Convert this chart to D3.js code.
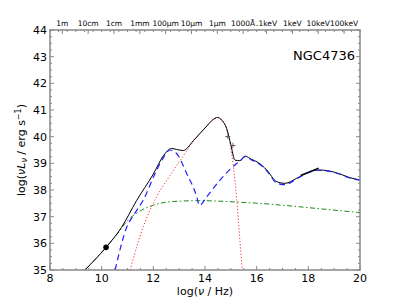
<!DOCTYPE html>
<html>
<head>
<meta charset="utf-8">
<script src="https://cdn.jsdelivr.net/npm/d3@7"></script>
<style>
  body { margin: 0; background: #fff; }
  svg { font-family: "DejaVu Sans", sans-serif; }
</style>
</head>
<body>
<svg width="400" height="300"></svg>
<script>
// log(nu/Hz), log(nu L_nu)
var totalSed = [[9.35,35],[10.17,35.85],[10.77,36.6],[11.35,37.6],[12.0,38.6],[12.4,39.3],[12.7,39.56],
  [12.9,39.52],[13.16,39.48],[13.55,39.85],[14.07,40.4],[14.3,40.63],
  [14.48,40.72],[14.65,40.62],[14.84,40.3],[15.0,39.7],[15.16,39.12],[15.35,39.1],[15.55,39.27],[15.8,39.15],
  [16.06,39.03],[16.39,38.75],[16.78,38.31],[17.1,38.25],[17.55,38.44],[17.94,38.63],[18.39,38.75],
  [18.77,38.72],[19.23,38.6],[19.61,38.46],[20,38.38]];
var diskSed = [[10.52,35],[10.97,36.6],[11.3,37.15],[11.61,37.62],[12.06,38.6],[12.35,39.15],[12.65,39.5],
  [12.9,39.37],[13.29,38.62],[13.68,37.75],[13.78,37.42],[14.07,37.75],[14.58,38.37],[15.16,38.94],[15.35,39.08],
  [15.55,39.25],[15.8,39.13],[16.06,39.0],[16.39,38.72],[16.78,38.26],[17.1,38.2],[17.55,38.42],[17.94,38.62],
  [18.39,38.74],[18.77,38.71],[19.23,38.59],[19.61,38.45],[20,38.37]];
var starSed = [[11.1,35],[11.61,36.62],[12.13,37.75],[12.65,38.55],[13.16,39.28],[13.55,39.82],[14.07,40.4],
  [14.3,40.63],[14.48,40.72],[14.65,40.62],[14.84,40.3],[14.97,39.75],[15.1,38.87],[15.23,37.62],[15.35,36.12],[15.44,35]];
var jetSed = [[9.35,35],[10.17,35.85],[10.6,36.35],[11.0,36.85],[11.5,37.22],[12.0,37.43],[12.65,37.56],
  [13.8,37.6],[15.2,37.55],[16.1,37.5],[17.0,37.43],[18.3,37.31],[19.9,37.16],[20,37.15]];
var radioPoint = [[10.17,35.85]];
var optPoints = [[14.88,40.0,0.08],[15.08,39.67,0.1]];
var xraySlope = [[17.7,38.55],[18.4,38.82]];
var yTicks = [35,36,37,38,39,40,41,42,43,44];
var xTicks = [8,10,12,14,16,18,20];
var topLabels = ["1m","10cm","1cm","1mm","100\u03bcm","10\u03bcm","1\u03bcm","1000\u00c5",".1keV","1keV","10keV","100keV"];
var topTicks = [8.477,9.477,10.477,11.477,12.477,13.477,14.477,15.477,16.383,17.383,18.383,19.383];

var svg = d3.select("svg"),
  margin = {top: 30, right: 40, bottom: 30, left: 50},
  width = +svg.attr("width") - margin.left - margin.right,
  height = +svg.attr("height") - margin.top - margin.bottom,
  g = svg.append("g").attr("transform", "translate(" + margin.left + "," + margin.top + ")");

var x = d3.scaleLinear().domain([8, 20]).range([0, width]);
var y = d3.scaleLinear().domain([35, 44]).range([height, 0]);

g.append("clipPath").attr("id", "clip")
  .append("rect").attr("width", width).attr("height", height);

var line = d3.line()
  .x(function(d) { return x(d[0]); })
  .y(function(d) { return y(d[1]); })
  .curve(d3.curveMonotoneX);

var plot = g.append("g").attr("clip-path", "url(#clip)");

plot.append("path").datum(jetSed)
  .attr("fill", "none").attr("stroke", "#1a8a1a").attr("stroke-width", 1)
  .attr("stroke-dasharray", "5,2.5,1.5,2.5").attr("d", line);

plot.append("path").datum(starSed)
  .attr("fill", "none").attr("stroke", "#ff3030").attr("stroke-width", 1)
  .attr("stroke-dasharray", "1.2,2").attr("d", line);

plot.append("path").datum(totalSed)
  .attr("fill", "none").attr("stroke", "#000").attr("stroke-width", 1).attr("d", line);

plot.append("path").datum(diskSed)
  .attr("fill", "none").attr("stroke", "#1f1fff").attr("stroke-width", 1.2)
  .attr("stroke-dasharray", "6,4").attr("d", line);

plot.append("path").datum(xraySlope)
  .attr("fill", "none").attr("stroke", "#000").attr("stroke-width", 1.2)
  .attr("d", d3.line().x(function(d) { return x(d[0]); }).y(function(d) { return y(d[1]); }));

plot.selectAll(".radio").data(radioPoint).enter().append("circle")
  .attr("cx", function(d) { return x(d[0]); })
  .attr("cy", function(d) { return y(d[1]); })
  .attr("r", 2.8).attr("fill", "#000");

var opt = plot.selectAll(".opt").data(optPoints).enter().append("g");
opt.append("line")
  .attr("x1", function(d) { return x(d[0]); }).attr("x2", function(d) { return x(d[0]); })
  .attr("y1", function(d) { return y(d[1] - d[2]); }).attr("y2", function(d) { return y(d[1] + d[2]); })
  .attr("stroke", "#777").attr("stroke-width", 1);
opt.append("line")
  .attr("x1", function(d) { return x(d[0]) - 2.5; }).attr("x2", function(d) { return x(d[0]) + 2.5; })
  .attr("y1", function(d) { return y(d[1]); }).attr("y2", function(d) { return y(d[1]); })
  .attr("stroke", "#555").attr("stroke-width", 1);

// frame
var frameColor = "#888";
g.append("rect").attr("width", width).attr("height", height)
  .attr("fill", "none").attr("stroke", frameColor).attr("stroke-width", 1.5);

function hTick(px, len, top) {
  g.append("line").attr("x1", px).attr("x2", px)
    .attr("y1", top ? 0 : height).attr("y2", top ? len : height - len)
    .attr("stroke", frameColor).attr("stroke-width", 1);
}
function vTick(py, len, right) {
  g.append("line").attr("y1", py).attr("y2", py)
    .attr("x1", right ? width : 0).attr("x2", right ? width - len : len)
    .attr("stroke", frameColor).attr("stroke-width", 1);
}

// bottom ticks (major every 2, minor every 0.5)
d3.range(8, 20.01, 0.5).forEach(function(v) {
  hTick(x(v), (v % 2 === 0) ? 4 : 2, false);
});
// left/right ticks (major every 1, minor every 0.25)
d3.range(35, 44.01, 0.25).forEach(function(v) {
  var len = (v % 1 === 0) ? 4 : 2;
  vTick(y(v), len, false);
  vTick(y(v), len, true);
});
// top ticks
topTicks.forEach(function(v) { hTick(x(v), 4, true); });
d3.range(8, 20.01, 1 / 3).forEach(function(v) { hTick(x(v), 2, true); });

g.selectAll(".ylab").data(yTicks).enter().append("text")
  .attr("x", -3).attr("y", function(d) { return y(d); })
  .attr("dy", "0.35em").attr("text-anchor", "end")
  .attr("font-size", 11).attr("fill", "#000")
  .text(function(d) { return d; });

g.selectAll(".xlab").data(xTicks).enter().append("text")
  .attr("x", function(d) { return x(d); }).attr("y", height + 12)
  .attr("text-anchor", "middle")
  .attr("font-size", 11).attr("fill", "#000")
  .text(function(d) { return d; });

g.selectAll(".toplab").data(topTicks).enter().append("text")
  .attr("x", function(d) { return x(d); }).attr("y", -4)
  .attr("text-anchor", "middle")
  .attr("font-size", 7.5).attr("fill", "#000")
  .text(function(d, i) { return topLabels[i]; });

g.append("text")
  .attr("x", width / 2).attr("y", height + 25)
  .attr("text-anchor", "middle").attr("font-size", 11)
  .html("log(<tspan font-style='italic'>\u03bd</tspan> / Hz)");

g.append("text")
  .attr("transform", "translate(-25," + (height / 2) + ") rotate(-90)")
  .attr("text-anchor", "middle").attr("font-size", 11)
  .html("log(<tspan font-style='italic'>\u03bdL</tspan><tspan font-style='italic' font-size='8' dy='2'>\u03bd</tspan><tspan dy='-2'> / erg s</tspan><tspan font-size='8' dy='-4'>\u22121</tspan><tspan dy='4'>)</tspan>");

g.append("text")
  .attr("x", width - 5).attr("y", 30)
  .attr("text-anchor", "end").attr("font-size", 13)
  .text("NGC4736");
</script>
</body>
</html>
